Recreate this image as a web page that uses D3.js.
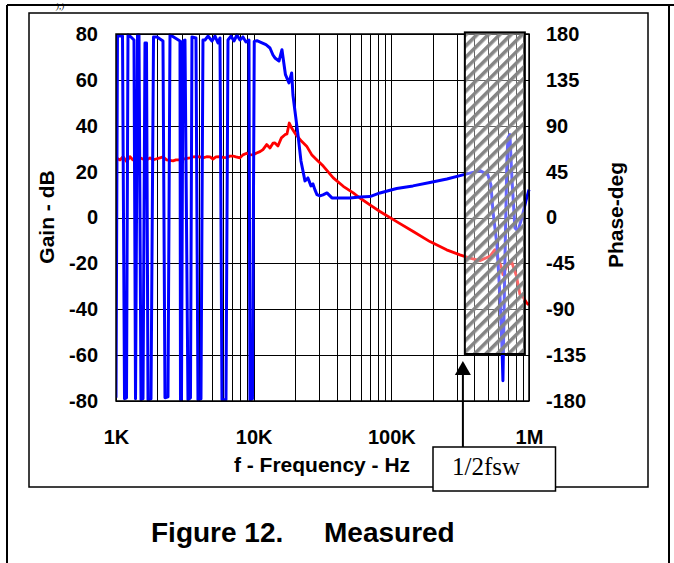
<!DOCTYPE html>
<html><head><meta charset="utf-8">
<script src="https://cdn.jsdelivr.net/npm/d3@7"></script>
<style>html,body{margin:0;padding:0;background:#fff;}svg{display:block;}</style>
</head><body>
<svg id="c" width="674" height="563"></svg>
<script>
// ---- data ----
const freqTicks = [1000, 10000, 100000, 1000000];
const freqTickLabels = ["1K", "10K", "100K", "1M"];
const gainTicks = [80, 60, 40, 20, 0, -20, -40, -60, -80];
const phaseTicks = [180, 135, 90, 45, 0, -45, -90, -135, -180];

const gainFreq = [1000,1069,1124,1196,1264,1329,1397,1494,1571,1652,1766,1856,1952,2087,2194,2334,2467,2594,2727,2916,3066,3279,3447,3624,3856,4074,4283,4557,4815,5064,5323,5692,5985,6368,6728,7073,7436,7953,8361,8896,9400,9883,10500,11111,11682,12428,13136,13810,14279,15013,15900,16878,17452,18140,18880,20300,22300,24262,26376,28683,32023,37862,44743,52880,59157,69905,82630,109270,144220,190670,252150,314900,372200,440000,520000,565400,594600,632500,646600,690900,747500,812800,858800,903000,960700,1000000];
const gainDb = [26.1,25.1,26.5,24.4,26.5,25.1,25.5,26.0,25.5,24.9,26.0,25.1,25.5,26.0,26.4,25.1,24.9,24.7,25.1,25.1,25.5,25.8,26.0,26.4,26.5,26.4,26.0,26.5,26.4,25.5,26.4,26.5,26.2,26.1,26.8,26.8,26.4,26.0,27.3,28.0,27.4,27.3,28.1,28.7,29.6,31.8,30.3,32.4,32.5,31.2,34.7,36.1,36.4,41.2,39.0,36.1,33.2,31.1,27.4,25.2,22.4,17.3,13.6,10.7,8.5,5.5,2.6,-1.8,-6.1,-10.5,-14.1,-16.3,-17.7,-18.8,-16.9,-14.0,-17.6,-22.0,-24.9,-21.1,-19.3,-25.8,-33.6,-34.6,-37.2,-38.1];

const phaseFreq = [1000,1025,1115,1153,1192,1222,1285,1351,1386,1433,1469,1519,1571,1624,1665,1708,1796,1873,1985,2194,2269,2386,2467,2551,2916,2941,2990,3066,3170,3333,3475,3563,3810,3939,4143,4283,4430,4657,4980,5236,5506,5692,5886,6294,6508,6841,7193,7561,7953,8361,8791,9245,9400,9801,10101,10568,11489,12286,13136,13810,14279,15268,16053,17018,18045,18880,19290,19950,20976,22054,23580,24794,26076,26962,27878,28823,30303,31860,34068,37044,40267,50043,59157,69912,82630,109270,143560,190670,253380,331100,440000,502900,528900,546900,584800,614900,635800,646600,668300,690900,702600,726600,751400,790000,830600,888000,949500,1000000];
const phaseDeg = [-176.9,178.0,178.0,-177.8,-176.9,179.0,177.1,174.1,-177.8,179.0,179.0,-178.8,-177.8,171.2,171.2,-178.8,-177.8,177.1,177.1,173.1,-176.9,-175.9,179.0,178.0,173.1,-178.8,-178.8,173.1,174.1,-178.8,-176.9,177.1,176.1,-178.8,-177.8,174.1,174.1,178.0,173.1,178.0,171.2,176.1,-178.8,-178.8,174.1,178.0,173.1,179.0,174.1,177.1,172.2,174.1,-178.8,-177.8,172.8,173.4,171.2,169.5,166.3,159.4,156.5,153.5,164.6,140.1,132.0,141.8,120.2,104.5,81.3,55.5,35.9,38.8,31.0,32.9,27.1,22.5,21.2,22.2,24.1,19.2,19.2,19.2,20.2,20.5,24.1,28.5,31.0,34.4,37.8,41.8,46.0,41.8,32.0,6.5,-26.9,-75.9,-124.9,-160.2,-42.5,55.5,78.0,81.3,38.8,-10.2,-13.1,-0.4,16.3,27.4];

const regionFreq = [342000, 933000];   // hatched 1/2 fsw region
const regionGain = [80.7, -59.5];
const markerFreq = 331000;             // arrow position
const titles = {left: "Gain - dB", right: "Phase-deg", bottom: "f - Frequency - Hz",
                note: "1/2fsw", fig: "Figure 12.", caption: "Measured", top: "),)"};

// ---- layout ----
const svg = d3.select("#c");
const P = {l: 116, r: 529, t: 34, b: 401};
const x = d3.scaleLog().domain([1000, 1e6]).range([P.l, P.r]);
const yG = d3.scaleLinear().domain([-80, 80]).range([P.b, P.t]);
const yP = d3.scaleLinear().domain([-180, 180]).range([P.b, P.t]);
const SANS = "'Liberation Sans', Arial, sans-serif";

// outer frame
svg.append("line").attr("x1", 7).attr("x2", 674).attr("y1", 5).attr("y2", 5).attr("stroke", "#000").attr("stroke-width", 2);
svg.append("line").attr("x1", 7).attr("x2", 7).attr("y1", 5).attr("y2", 563).attr("stroke", "#000").attr("stroke-width", 2);
svg.append("line").attr("x1", 669).attr("x2", 669).attr("y1", 5).attr("y2", 563).attr("stroke", "#000").attr("stroke-width", 2);
svg.append("text").attr("x", 56).attr("y", 9).attr("font-family", "'Liberation Serif', serif").attr("font-style", "italic")
  .attr("font-size", 9).text(titles.top);
// inner frame
svg.append("rect").attr("x", 29).attr("y", 13).attr("width", 619).attr("height", 474)
  .attr("fill", "none").attr("stroke", "#000").attr("stroke-width", 1.5);

// grid
const g = svg.append("g");
const vgrid = [];
for (let d = 1000; d < 1e6; d *= 10) for (let k = 1; k < 10; k++) vgrid.push(d * k);
vgrid.push(1e6);
g.selectAll("line.v").data(vgrid).join("line")
  .attr("x1", d => Math.round(x(d)) + 0.5).attr("x2", d => Math.round(x(d)) + 0.5)
  .attr("y1", P.t).attr("y2", P.b).attr("stroke", "#000").attr("stroke-width", 1);
g.selectAll("line.h").data(gainTicks).join("line")
  .attr("x1", P.l).attr("x2", P.r)
  .attr("y1", d => Math.round(yG(d)) + 0.5).attr("y2", d => Math.round(yG(d)) + 0.5)
  .attr("stroke", "#000").attr("stroke-width", 1);

// curves
svg.append("clipPath").attr("id", "pc").append("rect")
  .attr("x", P.l).attr("y", P.t - 2).attr("width", P.r - P.l + 2).attr("height", P.b - P.t + 3);
const cg = svg.append("g").attr("clip-path", "url(#pc)");
const lineG = d3.line().x((d, i) => x(gainFreq[i])).y(d => yG(d));
const lineP = d3.line().x((d, i) => x(phaseFreq[i])).y(d => yP(d));
cg.append("path").attr("d", lineG(gainDb)).attr("fill", "none").attr("stroke", "#ff0000")
  .attr("stroke-width", 2.8).attr("stroke-linejoin", "round");
cg.append("path").attr("d", lineP(phaseDeg)).attr("fill", "none").attr("stroke", "#0000ff")
  .attr("stroke-width", 3).attr("stroke-linejoin", "round");

// plot border
svg.append("rect").attr("x", P.l).attr("y", P.t).attr("width", P.r - P.l).attr("height", P.b - P.t)
  .attr("fill", "none").attr("stroke", "#000").attr("stroke-width", 1.5);

// hatched region
const defs = svg.append("defs");
const pat = defs.append("pattern").attr("id", "hatch").attr("patternUnits", "userSpaceOnUse")
  .attr("width", 8).attr("height", 8).attr("patternTransform", "rotate(45)");
pat.append("rect").attr("x", 0).attr("y", 0).attr("width", 3.6).attr("height", 8).attr("fill", "#858585");
const rx0 = x(regionFreq[0]), rx1 = x(regionFreq[1]), ry0 = yG(regionGain[0]), ry1 = yG(regionGain[1]);
svg.append("rect").attr("x", rx0).attr("y", ry0).attr("width", rx1 - rx0).attr("height", ry1 - ry0)
  .attr("fill", "rgba(255,255,255,0.4)");
svg.append("rect").attr("x", rx0).attr("y", ry0).attr("width", rx1 - rx0).attr("height", ry1 - ry0)
  .attr("fill", "url(#hatch)").attr("stroke", "#000").attr("stroke-width", 2);

// arrow + note
const ax = x(markerFreq);
svg.append("line").attr("x1", ax).attr("x2", ax).attr("y1", 374).attr("y2", 447).attr("stroke", "#000").attr("stroke-width", 2);
svg.append("path").attr("d", `M${ax},${ry1 + 7} L${ax - 8},${ry1 + 21} L${ax + 8},${ry1 + 21} Z`).attr("fill", "#000");
svg.append("rect").attr("x", 433).attr("y", 447).attr("width", 122.5).attr("height", 44)
  .attr("fill", "#fff").attr("stroke", "#000").attr("stroke-width", 1.5);
svg.append("text").attr("x", 452).attr("y", 475).attr("font-family", "'Liberation Serif', 'Times New Roman', serif")
  .attr("font-size", 25).text(titles.note);

// axes
function styleAxis(sel) {
  sel.select(".domain").remove();
  sel.selectAll("line").remove();
  sel.selectAll("text").attr("font-family", SANS).attr("font-weight", "bold").attr("font-size", 20).attr("fill", "#000");
}
svg.append("g").attr("transform", `translate(${P.l},0)`)
  .call(d3.axisLeft(yG).tickValues(gainTicks).tickSize(0).tickPadding(18).tickFormat(d => String(d)))
  .call(styleAxis);
svg.append("g").attr("transform", `translate(${P.r},0)`)
  .call(d3.axisRight(yP).tickValues(phaseTicks).tickSize(0).tickPadding(17).tickFormat(d => String(d)))
  .call(styleAxis);
svg.append("g").attr("transform", `translate(0,${P.b})`)
  .call(d3.axisBottom(x).tickValues(freqTicks).tickSize(0).tickPadding(29).tickFormat((d, i) => freqTickLabels[i]))
  .call(styleAxis);

// titles
svg.append("text").attr("transform", "translate(54,217) rotate(-90)").attr("text-anchor", "middle")
  .attr("font-family", SANS).attr("font-weight", "bold").attr("font-size", 21).text(titles.left);
svg.append("text").attr("transform", "translate(623,215) rotate(-90)").attr("text-anchor", "middle")
  .attr("font-family", SANS).attr("font-weight", "bold").attr("font-size", 21).text(titles.right);
svg.append("text").attr("x", 322).attr("y", 472).attr("text-anchor", "middle")
  .attr("font-family", SANS).attr("font-weight", "bold").attr("font-size", 21).text(titles.bottom);
svg.append("text").attr("x", 151).attr("y", 542).attr("font-family", SANS).attr("font-weight", "bold")
  .attr("font-size", 28).text(titles.fig);
svg.append("text").attr("x", 324).attr("y", 542).attr("font-family", SANS).attr("font-weight", "bold")
  .attr("font-size", 28).text(titles.caption);
</script>
</body></html>
